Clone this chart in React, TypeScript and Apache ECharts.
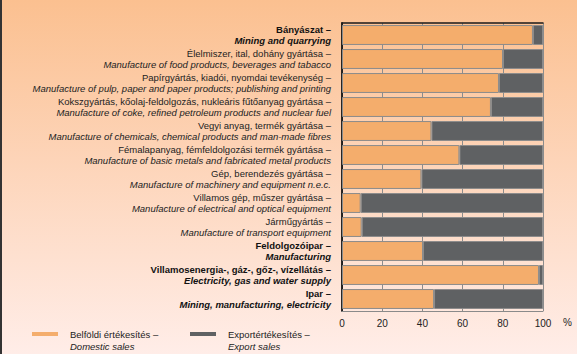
import React, { useEffect, useRef } from "react";
import * as echarts from "echarts";

const categoriesHu = [
  "Bányászat –",
  "Élelmiszer, ital, dohány gyártása –",
  "Papírgyártás, kiadói, nyomdai tevékenység –",
  "Kokszgyártás, kőolaj-feldolgozás, nukleáris fűtőanyag gyártása –",
  "Vegyi anyag, termék gyártása –",
  "Fémalapanyag, fémfeldolgozási termék gyártása –",
  "Gép, berendezés gyártása –",
  "Villamos gép, műszer gyártása –",
  "Járműgyártás –",
  "Feldolgozóipar –",
  "Villamosenergia-, gáz-, gőz-, vízellátás –",
  "Ipar –",
];
const categoriesEn = [
  "Mining and quarrying",
  "Manufacture of food products, beverages and tabacco",
  "Manufacture of pulp, paper and paper products; publishing and printing",
  "Manufacture of coke, refined petroleum products and nuclear fuel",
  "Manufacture of chemicals, chemical products and man-made fibres",
  "Manufacture of basic metals and fabricated metal products",
  "Manufacture of machinery and equipment n.e.c.",
  "Manufacture of electrical and optical equipment",
  "Manufacture of transport equipment",
  "Manufacturing",
  "Electricity, gas and water supply",
  "Mining, manufacturing, electricity",
];
const boldRows = [true, false, false, false, false, false, false, false, false, true, true, true];
const domestic = [95.0, 80.1, 78.1, 74.1, 44.5, 58.4, 39.5, 9.3, 9.8, 40.3, 98.0, 45.8];
const exportSales = domestic.map((d) => +(100 - d).toFixed(1));
const xTicks = [0, 20, 40, 60, 80, 100];
const seriesNames = ["Belföldi értékesítés –\nDomestic sales", "Exportértékesítés –\nExport sales"];

const FONT = "'Liberation Sans', Arial, sans-serif";

export default function App() {
  const ref = useRef<HTMLDivElement>(null);
  useEffect(() => {
    if (!ref.current) return;
    const chart = echarts.init(ref.current, undefined, { renderer: "svg" });
    const idx = categoriesHu.map((_, i) => String(i));
    const legendIcon = "path://M0,0h26v4h-26z M0,15.99h0.01v0.01z";
    const legendText = (name: string) => {
      const [a, b] = name.split("\n");
      return `{a|${a}}\n{b|${b}}`;
    };
    const legendRich = {
      a: { fontFamily: FONT, fontSize: 9.5, color: "#222", lineHeight: 12, padding: [0, 0, 0, 7] },
      b: { fontFamily: FONT, fontSize: 9.5, color: "#222", fontStyle: "italic", lineHeight: 12, padding: [0, 0, 0, 7] },
    };
    const legendBase = {
      top: 329,
      padding: 0,
      icon: legendIcon,
      itemWidth: 26,
      itemHeight: 16,
      selectedMode: false,
      formatter: legendText,
      itemStyle: { borderWidth: 0 },
      textStyle: { rich: legendRich },
    };
    chart.setOption({
      animation: false,
      textStyle: { fontFamily: FONT },
      grid: { left: 342, right: 34, top: 23, bottom: 43, containLabel: false },
      legend: [
        { ...legendBase, data: [seriesNames[0]], left: 32 },
        { ...legendBase, data: [seriesNames[1]], left: 190 },
      ],
      xAxis: [
        {
          type: "value",
          min: 0,
          max: 100,
          interval: 20,
          position: "bottom",
          axisLine: { show: true, lineStyle: { color: "#8a8a8a", width: 1 } },
          axisTick: { show: false },
          splitLine: { show: true, lineStyle: { color: "#8c8c8c", width: 1 } },
          axisLabel: {
            margin: 7,
            fontSize: 10,
            color: "#222",
            fontFamily: FONT,
            customValues: xTicks,
          },
        },
        {
          type: "value",
          min: 0,
          max: 100,
          interval: 20,
          position: "top",
          axisLine: { show: true, lineStyle: { color: "#1a1a1a", width: 1.5 } },
          axisTick: { show: false },
          splitLine: { show: false },
          axisLabel: { show: false },
        },
      ],
      yAxis: [
        {
          type: "category",
          data: idx,
          inverse: true,
          axisLine: { show: true, lineStyle: { color: "#1a1a1a", width: 1.5 } },
          axisTick: { show: false },
          axisLabel: {
            margin: 11,
            align: "right",
            formatter: (v: string) => {
              const i = +v;
              return boldRows[i]
                ? `{c|${categoriesHu[i]}}\n{d|${categoriesEn[i]}}`
                : `{a|${categoriesHu[i]}}\n{b|${categoriesEn[i]}}`;
            },
            rich: {
              a: { fontFamily: FONT, fontSize: 9.5, color: "#222", lineHeight: 11 },
              b: { fontFamily: FONT, fontSize: 9.5, color: "#222", fontStyle: "italic", lineHeight: 11 },
              c: { fontFamily: FONT, fontSize: 9.5, color: "#111", fontWeight: "bold", lineHeight: 11 },
              d: { fontFamily: FONT, fontSize: 9.5, color: "#111", fontWeight: "bold", fontStyle: "italic", lineHeight: 11 },
            },
          },
        },
        {
          type: "category",
          data: idx,
          inverse: true,
          position: "right",
          axisLine: { show: true, lineStyle: { color: "#1a1a1a", width: 1.5 } },
          axisTick: { show: false },
          axisLabel: { show: false },
        },
      ],
      graphic: [
        {
          type: "text",
          left: 563,
          top: 317,
          style: { text: "%", fontSize: 10, fill: "#222", fontFamily: FONT },
        },
      ],
      series: [
        {
          name: seriesNames[0],
          type: "bar",
          stack: "s",
          data: domestic,
          barCategoryGap: "17%",
          itemStyle: { color: "#F4AD6C", borderColor: "#8c8c8c", borderWidth: 1 },
        },
        {
          name: seriesNames[1],
          type: "bar",
          stack: "s",
          data: exportSales,
          barCategoryGap: "17%",
          itemStyle: { color: "#5F6163", borderColor: "#8c8c8c", borderWidth: 1 },
        },
      ],
    });
    return () => chart.dispose();
  }, []);
  return (
    <div
      style={{
        position: "fixed",
        left: 0,
        top: 0,
        width: 577,
        height: 354,
        background: "linear-gradient(to bottom, #FBC090 0%, #FDD4B8 45%, #FFEDE8 100%)",
        borderLeft: "2px solid #333",
        boxSizing: "border-box",
      }}
    >
      <div ref={ref} style={{ position: "absolute", left: -2, top: 0, width: 577, height: 354 }} />
    </div>
  );
}
